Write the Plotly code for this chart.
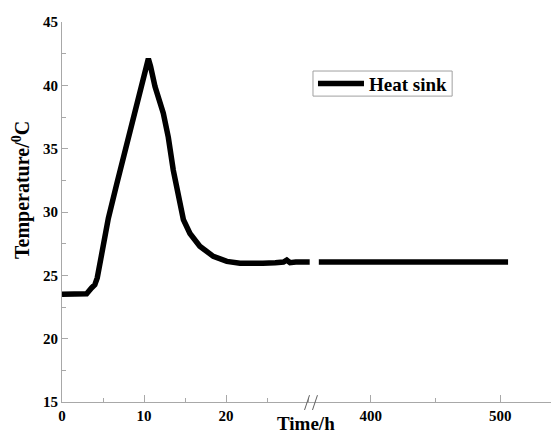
import plotly.graph_objects as go

# Segment 1 (0-30 h)
time_early = [0, 1, 2, 3.0, 3.6, 4.0, 4.3, 5.04, 5.65, 6.67, 8.09, 9.5, 10.2, 10.53, 10.8,
              11.34, 12.35, 12.96, 13.57, 14.18, 14.8, 15.6, 16.8, 18.45, 20.1, 21.7, 23,
              24.5, 26, 27, 27.4, 27.8, 28.5, 29.3, 30.2]
temp_early = [23.5, 23.5, 23.5, 23.55, 24.0, 24.25, 24.8, 27.5, 29.5, 32.2, 35.8, 39.3,
              41.3, 42.1, 41.5, 39.9, 37.8, 35.9, 33.3, 31.2, 29.4, 28.3, 27.3, 26.5, 26.1,
              25.95, 26.0, 25.95, 26.0, 26.05, 26.2, 26.0, 26.05, 26.0, 26.05]

# Segment 2 (360-506 h)
time_late = [360, 370, 380, 390, 400, 410, 420, 430, 440, 450, 460, 470, 480, 490, 500, 506]
temp_late = [26.05, 26.05, 26.0, 26.05, 26.05, 26.0, 26.05, 26.05, 26.0, 26.05, 26.05,
             26.0, 26.05, 26.05, 26.05, 26.05]

y_ticks = [15, 20, 25, 30, 35, 40, 45]
x1_ticks = [0, 10, 20]
x2_ticks = [400, 500]

FONT = "Liberation Serif"
AXC = "#a8a8a8"

fig = go.Figure()
fig.add_trace(go.Scatter(x=time_early, y=temp_early, mode="lines", name="Heat sink",
                         line=dict(color="black", width=5.5), xaxis="x", yaxis="y"))
fig.add_trace(go.Scatter(x=time_late, y=temp_late, mode="lines", name="Heat sink",
                         line=dict(color="black", width=5.5), xaxis="x2", yaxis="y",
                         showlegend=False))

tickfont = dict(family=FONT, size=15, color="black", weight="bold")
split = 0.505

common_x = dict(showgrid=False, zeroline=False, showline=True, linecolor=AXC, linewidth=1,
                ticks="inside", ticklen=7, tickcolor=AXC, tickfont=tickfont)

# page body adds an 8px offset, so the figure is 8px smaller and margins shifted
fig.update_layout(
    width=551, height=428,
    margin=dict(l=54, r=0, t=14, b=34),
    paper_bgcolor="white", plot_bgcolor="white",
    xaxis=dict(domain=[0, split], range=[0, 30.6], tickvals=x1_ticks, anchor="y",
               minor=dict(dtick=5, tick0=0, ticks="inside", ticklen=4, tickcolor=AXC),
               **common_x),
    xaxis2=dict(domain=[split, 1], range=[355.5, 545.3], tickvals=x2_ticks, anchor="y",
                minor=dict(dtick=50, tick0=0, ticks="inside", ticklen=4, tickcolor=AXC),
                **common_x),
    yaxis=dict(range=[15, 45], tickvals=y_ticks, showgrid=False, zeroline=False,
               showline=True, linecolor=AXC, linewidth=1, ticks="inside", ticklen=6,
               tickcolor=AXC, tickfont=tickfont, anchor="x",
               minor=dict(dtick=2.5, tick0=15, ticks="inside", ticklen=4, tickcolor=AXC)),
    showlegend=True,
    legend=dict(x=0.505, y=0.838, xanchor="left", yanchor="middle",
                borderwidth=0, bgcolor="rgba(0,0,0,0)",
                font=dict(family=FONT, size=19, color="black", weight="bold"),
                itemwidth=46, tracegroupgap=0),
    font=dict(family=FONT),
)

# legend frame
fig.add_shape(type="rect", xref="paper", yref="paper", x0=0.505, x1=0.785,
              y0=0.805, y1=0.871, line=dict(color="#a0a0a0", width=1), layer="below")

# axis titles
fig.add_annotation(text="Time/h", xref="paper", yref="paper", x=0.49, y=0, yshift=-34,
                   xanchor="center", yanchor="bottom", showarrow=False,
                   font=dict(family=FONT, size=19, color="black", weight="bold"))
fig.add_annotation(text="Temperature/<sup>0</sup>C", xref="paper", yref="paper",
                   x=0, xshift=-40, y=0.558, textangle=-90, xanchor="center",
                   yanchor="middle", showarrow=False,
                   font=dict(family=FONT, size=20, color="black", weight="bold"))

# axis break marks
for dx in (0.0, 0.016):
    fig.add_shape(type="line", xref="paper", yref="paper",
                  x0=0.488 + dx, y0=-0.021, x1=0.498 + dx, y1=0.018,
                  line=dict(color="#606060", width=1))

fig.write_html("out.html")
